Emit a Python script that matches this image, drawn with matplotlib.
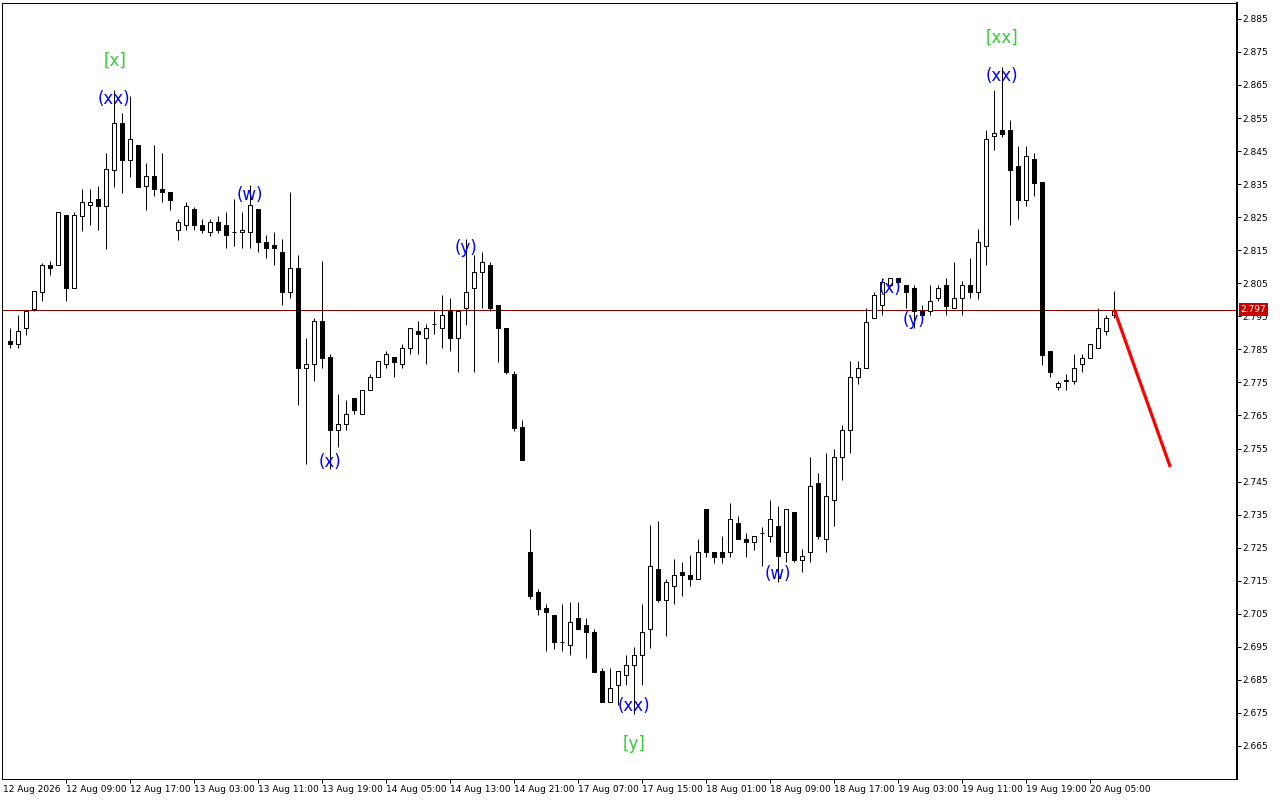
import matplotlib
matplotlib.use('Agg')
import matplotlib.pyplot as plt
from matplotlib.patches import Rectangle
from matplotlib.transforms import blended_transform_factory

# hourly candles (index 0 = first candle on the left)
opens = [2.7874, 2.7866, 2.7914, 2.7973, 2.8025, 2.8106, 2.8104, 2.8257, 2.8035, 2.8255,
         2.8287, 2.8306, 2.8285, 2.8394, 2.8535, 2.8424, 2.8467, 2.8344, 2.8374, 2.8336,
         2.8326, 2.8212, 2.8225, 2.8275, 2.8227, 2.8205, 2.8235, 2.8225, 2.8205, 2.8205,
         2.8205, 2.8275, 2.8174, 2.8165, 2.8144, 2.8025, 2.8096, 2.7795, 2.7805, 2.7936,
         2.7827, 2.7606, 2.7624, 2.7704, 2.7654, 2.7727, 2.7767, 2.7805, 2.7827, 2.7805,
         2.7854, 2.7906, 2.7884, 2.7926, 2.7914, 2.7967, 2.7884, 2.7975, 2.8035, 2.8084,
         2.8106, 2.7985, 2.7914, 2.7775, 2.7615, 2.7236, 2.7117, 2.7066, 2.7047, 2.6964,
         2.6954, 2.7036, 2.7016, 2.6994, 2.6877, 2.6784, 2.6835, 2.6866, 2.6896, 2.6926,
         2.7005, 2.7186, 2.7093, 2.7135, 2.7176, 2.7168, 2.7154, 2.7368, 2.7236, 2.7236,
         2.7236, 2.7325, 2.7276, 2.7267, 2.7294, 2.7285, 2.7316, 2.7236, 2.7358, 2.7214,
         2.7236, 2.7446, 2.7276, 2.7394, 2.7525, 2.7606, 2.7767, 2.7795, 2.7944, 2.7985,
         2.8045, 2.8066, 2.8045, 2.8035, 2.7965, 2.7965, 2.8005, 2.8045, 2.7975, 2.8005,
         2.8045, 2.8025, 2.8164, 2.8495, 2.8513, 2.8513, 2.8404, 2.8303, 2.8426, 2.8355,
         2.7845, 2.7735, 2.7755, 2.7755, 2.7805, 2.7825, 2.7854, 2.7905, 2.7955]
highs = [2.7914, 2.7955, 2.7967, 2.8027, 2.8110, 2.8116, 2.8265, 2.8257, 2.8265, 2.8336,
         2.8336, 2.8344, 2.8445, 2.8636, 2.8566, 2.8618, 2.8467, 2.8414, 2.8467, 2.8445,
         2.8326, 2.8245, 2.8296, 2.8280, 2.8245, 2.8245, 2.8255, 2.8265, 2.8306, 2.8265,
         2.8346, 2.8275, 2.8197, 2.8205, 2.8184, 2.8326, 2.8136, 2.7884, 2.7946, 2.8116,
         2.7837, 2.7715, 2.7696, 2.7704, 2.7727, 2.7775, 2.7815, 2.7845, 2.7827, 2.7866,
         2.7914, 2.7936, 2.7926, 2.7965, 2.8015, 2.8005, 2.7967, 2.8184, 2.8134, 2.8144,
         2.8114, 2.7985, 2.7914, 2.7786, 2.7636, 2.7307, 2.7126, 2.7078, 2.7047, 2.7078,
         2.7087, 2.7087, 2.7036, 2.7005, 2.6887, 2.6887, 2.6877, 2.6926, 2.6948, 2.7078,
         2.7320, 2.7330, 2.7156, 2.7216, 2.7206, 2.7228, 2.7276, 2.7368, 2.7236, 2.7285,
         2.7385, 2.7345, 2.7294, 2.7285, 2.7314, 2.7395, 2.7377, 2.7368, 2.7358, 2.7247,
         2.7525, 2.7476, 2.7537, 2.7547, 2.7620, 2.7815, 2.7815, 2.7975, 2.8025, 2.8066,
         2.8066, 2.8066, 2.8045, 2.8045, 2.7985, 2.8045, 2.8045, 2.8066, 2.8114, 2.8057,
         2.8126, 2.8215, 2.8515, 2.8634, 2.8705, 2.8543, 2.8465, 2.8465, 2.8445, 2.8355,
         2.7845, 2.7755, 2.7775, 2.7835, 2.7835, 2.7866, 2.7975, 2.7955, 2.8028]
lows = [2.7854, 2.7854, 2.7893, 2.7965, 2.7995, 2.8074, 2.8104, 2.7995, 2.8035, 2.8208,
        2.8225, 2.8212, 2.8154, 2.8342, 2.8324, 2.8372, 2.8342, 2.8273, 2.8314, 2.8296,
        2.8273, 2.8182, 2.8212, 2.8212, 2.8203, 2.8194, 2.8203, 2.8156, 2.8164, 2.8156,
        2.8156, 2.8144, 2.8126, 2.8104, 2.7983, 2.8005, 2.7682, 2.7504, 2.7753, 2.7795,
        2.7487, 2.7555, 2.7606, 2.7654, 2.7654, 2.7727, 2.7767, 2.7795, 2.7765, 2.7795,
        2.7835, 2.7835, 2.7805, 2.7896, 2.7854, 2.7844, 2.7783, 2.7924, 2.7783, 2.7975,
        2.7965, 2.7813, 2.7775, 2.7603, 2.7515, 2.7095, 2.7045, 2.6936, 2.6944, 2.6936,
        2.6924, 2.7005, 2.6916, 2.6875, 2.6784, 2.6784, 2.6775, 2.6833, 2.6746, 2.6833,
        2.6946, 2.7085, 2.6984, 2.7078, 2.7105, 2.7135, 2.7154, 2.7222, 2.7204, 2.7204,
        2.7222, 2.7275, 2.7222, 2.7244, 2.7194, 2.7267, 2.7146, 2.7207, 2.7207, 2.7176,
        2.7207, 2.7275, 2.7236, 2.7316, 2.7455, 2.7535, 2.7745, 2.7795, 2.7944, 2.7955,
        2.8045, 2.8045, 2.7975, 2.7914, 2.7950, 2.7955, 2.7995, 2.7955, 2.7975, 2.7955,
        2.8005, 2.8003, 2.8104, 2.8454, 2.8493, 2.8225, 2.8243, 2.8285, 2.8314, 2.7803,
        2.7765, 2.7727, 2.7727, 2.7745, 2.7783, 2.7825, 2.7854, 2.7893, 2.7946]
closes = [2.7866, 2.7906, 2.7967, 2.8027, 2.8106, 2.8096, 2.8265, 2.8035, 2.8257, 2.8296,
          2.8296, 2.8285, 2.8396, 2.8535, 2.8424, 2.8487, 2.8342, 2.8374, 2.8334, 2.8326,
          2.8303, 2.8235, 2.8285, 2.8225, 2.8212, 2.8235, 2.8212, 2.8197, 2.8206, 2.8212,
          2.8287, 2.8174, 2.8156, 2.8156, 2.8025, 2.8096, 2.7795, 2.7805, 2.7936, 2.7825,
          2.7606, 2.7624, 2.7654, 2.7666, 2.7727, 2.7767, 2.7815, 2.7835, 2.7813, 2.7854,
          2.7914, 2.7896, 2.7914, 2.7926, 2.7955, 2.7884, 2.7967, 2.8025, 2.8084, 2.8114,
          2.7975, 2.7914, 2.7783, 2.7613, 2.7515, 2.7105, 2.7063, 2.7054, 2.6964, 2.6965,
          2.7025, 2.7005, 2.6994, 2.6875, 2.6784, 2.6825, 2.6877, 2.6896, 2.6926, 2.6994,
          2.7194, 2.7093, 2.7146, 2.7168, 2.7166, 2.7154, 2.7236, 2.7236, 2.7222, 2.7222,
          2.7337, 2.7275, 2.7266, 2.7285, 2.7295, 2.7337, 2.7225, 2.7368, 2.7214, 2.7225,
          2.7436, 2.7285, 2.7406, 2.7525, 2.7606, 2.7767, 2.7795, 2.7934, 2.8015, 2.8055,
          2.8066, 2.8055, 2.8025, 2.7965, 2.7955, 2.7995, 2.8035, 2.7982, 2.8005, 2.8045,
          2.8025, 2.8175, 2.8487, 2.8505, 2.8503, 2.8394, 2.8303, 2.8435, 2.8354, 2.7833,
          2.7783, 2.7747, 2.7756, 2.7795, 2.7825, 2.7866, 2.7914, 2.7946, 2.7965]

time_ticks = [7, 15, 23, 31, 39, 47, 55, 63, 71, 79, 87, 95, 103, 111, 119, 127, 135]
time_labels = ['12 Aug 09:00', '12 Aug 17:00', '13 Aug 03:00', '13 Aug 11:00',
               '13 Aug 19:00', '14 Aug 05:00', '14 Aug 13:00', '14 Aug 21:00',
               '17 Aug 07:00', '17 Aug 15:00', '18 Aug 01:00', '18 Aug 09:00',
               '18 Aug 17:00', '19 Aug 03:00', '19 Aug 11:00', '19 Aug 19:00',
               '20 Aug 05:00']
first_label = '12 Aug 2026'

price_ticks = [2.665, 2.675, 2.685, 2.695, 2.705, 2.715, 2.725, 2.735, 2.745, 2.755,
               2.765, 2.775, 2.785, 2.795, 2.805, 2.815, 2.825, 2.835, 2.845, 2.855,
               2.865, 2.875, 2.885]
last_price = 2.797

# wave marks
wave_text = ['[x]', '(xx)', '(w)', '(x)', '(y)', '(xx)', '[y]', '(w)', '(x)', '(y)',
             '(xx)', '[xx]']
wave_x = [13.1, 13, 30, 40, 57, 78, 78, 96, 110, 113, 124, 124]
wave_y = [2.8723, 2.8608, 2.8317, 2.7510, 2.8157, 2.6771, 2.6657, 2.7171, 2.8036,
          2.7939, 2.8678, 2.8793]
wave_color = ['#32cd32', 'blue', 'blue', 'blue', 'blue', 'blue', '#32cd32', 'blue',
              'blue', 'blue', 'blue', '#32cd32']

# projected move
forecast_x = [138, 145]
forecast_y = [2.797, 2.7494]

PX = 0.72  # one pixel in points at dpi 100

fig = plt.figure(figsize=(12.8, 8), dpi=100)
ax = fig.add_axes([2 / 1280, 21 / 800, 1235 / 1280, 776 / 800])

for i in range(len(opens)):
    o, h, l, c = opens[i], highs[i], lows[i], closes[i]
    ax.vlines(i, l, h, color='black', lw=PX, zorder=2)
    face = 'white' if c >= o else 'black'
    ax.add_patch(Rectangle((i - 0.25, min(o, c)), 0.5, max(abs(c - o), 0.00001),
                           facecolor=face, edgecolor='black', lw=PX, zorder=3))

ax.axhline(last_price, color='#8c0000', lw=PX, zorder=1)
ax.plot(forecast_x, forecast_y, color='red', lw=2.3, solid_capstyle='butt', zorder=5)

for t, x, y, col in zip(wave_text, wave_x, wave_y, wave_color):
    ax.text(x, y, t, color=col, fontsize=12, ha='center', va='center', zorder=6)

ax.set_xlim(-1.04, 153.34)
ax.set_ylim(2.6550, 2.8898)

ax.yaxis.tick_right()
ax.set_yticks(price_ticks)
ax.set_yticklabels(['%.3f' % p for p in price_ticks])
ax.tick_params(axis='y', direction='out', length=3, width=PX, pad=1, labelsize=6.5)

ax.set_xticks(time_ticks)
ax.set_xticklabels(time_labels, ha='left')
ax.tick_params(axis='x', direction='out', length=3, width=PX, pad=1.5, labelsize=6.5)

ax.annotate(first_label, xy=(0, 0), xycoords='axes fraction', xytext=(1, -4.5),
            textcoords='offset points', ha='left', va='top', fontsize=6.5)

for side in ['left', 'top', 'bottom']:
    ax.spines[side].set_linewidth(PX)
ax.spines['right'].set_linewidth(2 * PX)

trans = blended_transform_factory(ax.transAxes, ax.transData)
ax.annotate('%.3f' % last_price, xy=(1, last_price), xycoords=trans, xytext=(2.5, 0),
            textcoords='offset points', ha='left', va='center', fontsize=6.5,
            color='white', zorder=10, annotation_clip=False,
            bbox=dict(boxstyle='square,pad=0.2', facecolor='#c80000', edgecolor='none'))

fig.savefig('out.png', dpi=100, facecolor='white')
